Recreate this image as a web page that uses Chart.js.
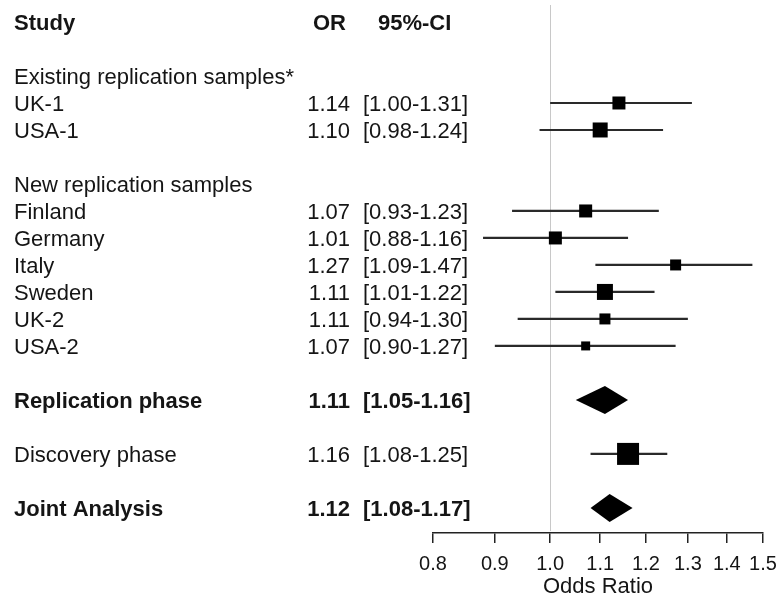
<!DOCTYPE html>
<html>
<head>
<meta charset="utf-8">
<script src="https://cdn.jsdelivr.net/npm/chart.js@4.4.1/dist/chart.umd.min.js"></script>
<style>
  body { margin: 0; background: #fff; }
  #forest { display: block; }
</style>
</head>
<body>
<canvas id="forest" width="781" height="601"></canvas>
<script>
// forest plot: odds ratios with 95% CI per study

// single studies (rows are counted from the header line, 0 = header)
var studies = ["UK-1", "USA-1", "Finland", "Germany", "Italy", "Sweden", "UK-2", "USA-2", "Discovery phase"];
var studyRows = [3, 4, 7, 8, 9, 10, 11, 12, 16];
var oddsRatio = [1.14, 1.10, 1.07, 1.01, 1.27, 1.11, 1.11, 1.07, 1.16];
var ciLow = [1.00, 0.98, 0.93, 0.88, 1.09, 1.01, 0.94, 0.90, 1.08];
var ciHigh = [1.31, 1.24, 1.23, 1.16, 1.47, 1.22, 1.30, 1.27, 1.25];
var weights = [13, 15, 13, 13, 11, 16, 11, 9, 22];

// pooled estimates (drawn as diamonds)
var pooled = ["Replication phase", "Joint Analysis"];
var pooledRows = [14, 18];
var pooledOR = [1.11, 1.12];
var pooledLow = [1.05, 1.08];
var pooledHigh = [1.16, 1.17];

// group headings
var groups = ["Existing replication samples*", "New replication samples"];
var groupRows = [2, 6];

var xTicks = [0.8, 0.9, 1.0, 1.1, 1.2, 1.3, 1.4, 1.5];

var FONT = "'Liberation Sans', Arial, sans-serif";
var INK = "#151515";

function ciText(lo, hi) {
	return "[" + lo.toFixed(2) + "-" + hi.toFixed(2) + "]";
}

var forestPlugin = {
	id: "forest",
	beforeDatasetsDraw: function (chart) {
		var ctx = chart.ctx;
		var x = chart.scales.x;
		var y = chart.scales.y;
		var area = chart.chartArea;

		// line of no effect
		ctx.save();
		ctx.strokeStyle = "#c8c8c8";
		ctx.lineWidth = 1;
		var x1 = Math.round(x.getPixelForValue(1.0)) + 0.5;
		ctx.beginPath();
		ctx.moveTo(x1, area.top);
		ctx.lineTo(x1, area.bottom - 2);
		ctx.stroke();

		// whiskers
		ctx.strokeStyle = "#2a2a2a";
		ctx.lineWidth = 2.2;
		for (var i = 0; i < studies.length; i++) {
			var yy = y.getPixelForValue(studyRows[i]);
			ctx.beginPath();
			ctx.moveTo(x.getPixelForValue(ciLow[i]), yy);
			ctx.lineTo(x.getPixelForValue(ciHigh[i]), yy);
			ctx.stroke();
		}

		// diamonds
		ctx.fillStyle = "#000";
		for (var j = 0; j < pooled.length; j++) {
			var cy = y.getPixelForValue(pooledRows[j]);
			var h = 14;
			ctx.beginPath();
			ctx.moveTo(x.getPixelForValue(pooledLow[j]), cy);
			ctx.lineTo(x.getPixelForValue(pooledOR[j]), cy - h);
			ctx.lineTo(x.getPixelForValue(pooledHigh[j]), cy);
			ctx.lineTo(x.getPixelForValue(pooledOR[j]), cy + h);
			ctx.closePath();
			ctx.fill();
		}
		ctx.restore();
	},
	afterDraw: function (chart) {
		var ctx = chart.ctx;
		var y = chart.scales.y;
		var shift = 8;
		ctx.save();
		ctx.fillStyle = INK;
		ctx.textBaseline = "alphabetic";

		function put(txt, px, row, bold, align) {
			ctx.font = (bold ? "bold " : "") + "22px " + FONT;
			ctx.textAlign = align || "left";
			ctx.fillText(txt, px, y.getPixelForValue(row) + shift);
		}

		put("Study", 14, 0, true);
		put("OR", 313, 0, true);
		put("95%-CI", 378, 0, true);

		groups.forEach(function (g, k) {
			put(g, 14, groupRows[k], false);
		});
		studies.forEach(function (s, k) {
			put(s, 14, studyRows[k], false);
			put(oddsRatio[k].toFixed(2), 350, studyRows[k], false, "right");
			put(ciText(ciLow[k], ciHigh[k]), 363, studyRows[k], false);
		});
		pooled.forEach(function (p, k) {
			put(p, 14, pooledRows[k], true);
			put(pooledOR[k].toFixed(2), 350, pooledRows[k], true, "right");
			put(ciText(pooledLow[k], pooledHigh[k]), 363, pooledRows[k], true);
		});
		ctx.restore();
	},
};

var boxes = studies.map(function (s, i) {
	return { x: oddsRatio[i], y: studyRows[i] };
});

var forest = new Chart(document.getElementById("forest"), {
	type: "scatter",
	data: {
		datasets: [
			{
				label: "Odds ratio",
				data: boxes,
				pointStyle: "rect",
				backgroundColor: "#000",
				borderWidth: 0,
				pointRadius: weights.map(function (w) { return w / Math.SQRT2; }),
				pointHoverRadius: weights.map(function (w) { return w / Math.SQRT2; }),
			},
		],
	},
	options: {
		responsive: false,
		animation: false,
		events: [],
		layout: {
			autoPadding: false,
			padding: { left: 433, right: 18, top: 5, bottom: 3 },
		},
		plugins: {
			legend: { display: false },
			tooltip: { enabled: false },
		},
		scales: {
			x: {
				type: "logarithmic",
				min: 0.8,
				max: 1.5,
				afterBuildTicks: function (scale) {
					scale.ticks = xTicks.map(function (v) { return { value: v }; });
				},
				afterFit: function (scale) {
					// fixed axis band, no extra side padding for end labels
					scale.paddingLeft = 0;
					scale.paddingRight = 0;
					scale.height = 65;
				},
				ticks: {
					autoSkip: false,
					maxRotation: 0,
					padding: 11,
					color: INK,
					font: { family: FONT, size: 20, lineHeight: 1 },
					callback: function (v) { return Number(v).toFixed(1); },
				},
				grid: {
					drawOnChartArea: false,
					drawTicks: true,
					tickLength: 10,
					color: "#222",
					lineWidth: 1.5,
				},
				border: { color: "#222", width: 1.5 },
				title: {
					display: true,
					text: "Odds Ratio",
					color: INK,
					font: { family: FONT, size: 22, lineHeight: 1 },
					padding: { top: 0, bottom: 0 },
				},
			},
			y: {
				type: "linear",
				display: false,
				reverse: true,
				min: -0.63,
				max: 18.93,
			},
		},
	},
	plugins: [forestPlugin],
});
</script>
</body>
</html>
